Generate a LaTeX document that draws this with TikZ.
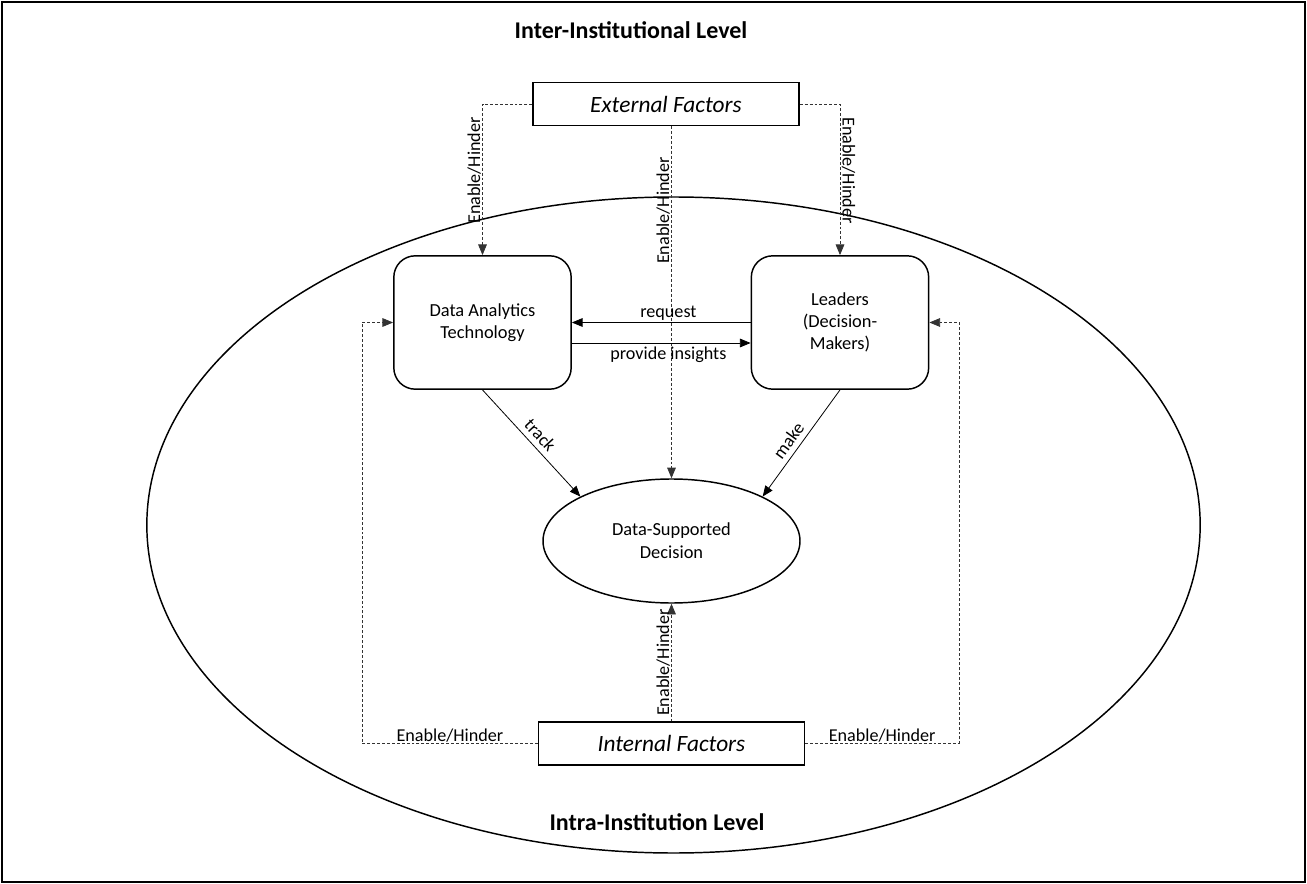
\documentclass[tikz,border=0pt]{standalone}
\usepackage{fontspec}
\setmainfont{Carlito}
\usetikzlibrary{arrows.meta,shapes.geometric}
\begin{document}
\begin{tikzpicture}[x=0.75pt,y=-0.75pt,
  txt/.style={font=\fontsize{13.8}{16.5}\selectfont},
  lbl/.style={font=\fontsize{13.6}{16}\selectfont, inner sep=1pt},
  head/.style={font=\fontsize{18}{22}\selectfont\bfseries},
  factor/.style={draw, line width=1.1pt, minimum width=199.5pt, minimum height=32pt,
    inner sep=0pt, font=\fontsize{17.5}{21}\selectfont\itshape},
  actor/.style={draw, line width=1.1pt, rounded corners=16pt, minimum width=133pt,
    minimum height=100pt, inner sep=0pt, align=center, txt},
  tip/.style={-{Triangle[length=8pt,width=6.5pt]}},
  flow/.style={tip, line width=0.6pt, draw=black},
  influence/.style={tip, line width=0.6pt, draw=black!80, dash pattern=on 2.2pt off 1.5pt},
]
% canvas and frame
\useasboundingbox (0,0) rectangle (1307,884);
\draw[line width=1.2pt] (2,2) rectangle (1305,882);

% institution boundary
\node[draw, ellipse, line width=1.1pt, minimum width=790pt, minimum height=492pt,
  inner sep=0pt] (intra) at (673.5,525) {};

% level titles
\node[head] (intertitle) at (631,30) {Inter-Institutional Level};
\node[head] (intratitle) at (657,822) {Intra-Institution Level};

% main elements
\node[factor] (ext) at (666,104) {External Factors};
\node[factor] (int) at (671.5,743.5) {Internal Factors};
\node[actor] (dat) at (482.5,322.5) {Data Analytics\\Technology};
\node[actor] (lea) at (840,322.5) {Leaders\\(Decision-\\Makers)};
\node[draw, ellipse, line width=1.1pt, minimum width=192.75pt, minimum height=93pt,
  inner sep=0pt, align=center, font=\fontsize{13.8}{17.5}\selectfont]
  (dec) at (671.5,541) {Data-Supported\\Decision};

% bend points of the internal-factor loops
\coordinate (lbend) at (362,0);
\coordinate (rbend) at (959,0);

% external influences
\draw[influence] (ext.west) -| (dat.north)
  node[lbl, pos=0.72, rotate=90, anchor=south] (eh1) {Enable/Hinder};
\draw[influence] (ext.east) -| (lea.north)
  node[lbl, pos=0.72, rotate=-90, anchor=south] (eh2) {Enable/Hinder};
\draw[influence] (dec.north |- ext.south) -- (dec.north)
  node[lbl, pos=0.24, rotate=90, anchor=south] (eh3) {Enable/Hinder};

% internal influences
\draw[influence] (int.north) -- (dec.south)
  node[lbl, pos=0.5, rotate=90, anchor=south] (eh4) {Enable/Hinder};
\draw[influence] (int.west) -- (int.west -| lbend)
  node[lbl, pos=0.5, above] (eh5) {Enable/Hinder}
  |- (dat.west);
\draw[influence] (int.east) -- (int.east -| rbend)
  node[lbl, pos=0.5, above] (eh6) {Enable/Hinder}
  |- (lea.east);

% exchanges between technology and leaders
\draw[flow] (lea.west) -- (dat.east)
  node[lbl, pos=0.46, above] (req) {request};
\draw[flow] (dat.east |- 0,343) -- (lea.west |- 0,343)
  node[lbl, pos=0.54, below, inner sep=2.5pt] (ins) {provide insights};

% paths into the decision
\draw[flow] (dat.south) -- (dec.154)
  node[lbl, midway, sloped, above, inner sep=4pt] (trk) {track};
\draw[flow] (lea.south) -- (dec.26)
  node[lbl, pos=0.54, sloped, above, inner sep=4pt] (mk) {make};
\end{tikzpicture}
\end{document}
